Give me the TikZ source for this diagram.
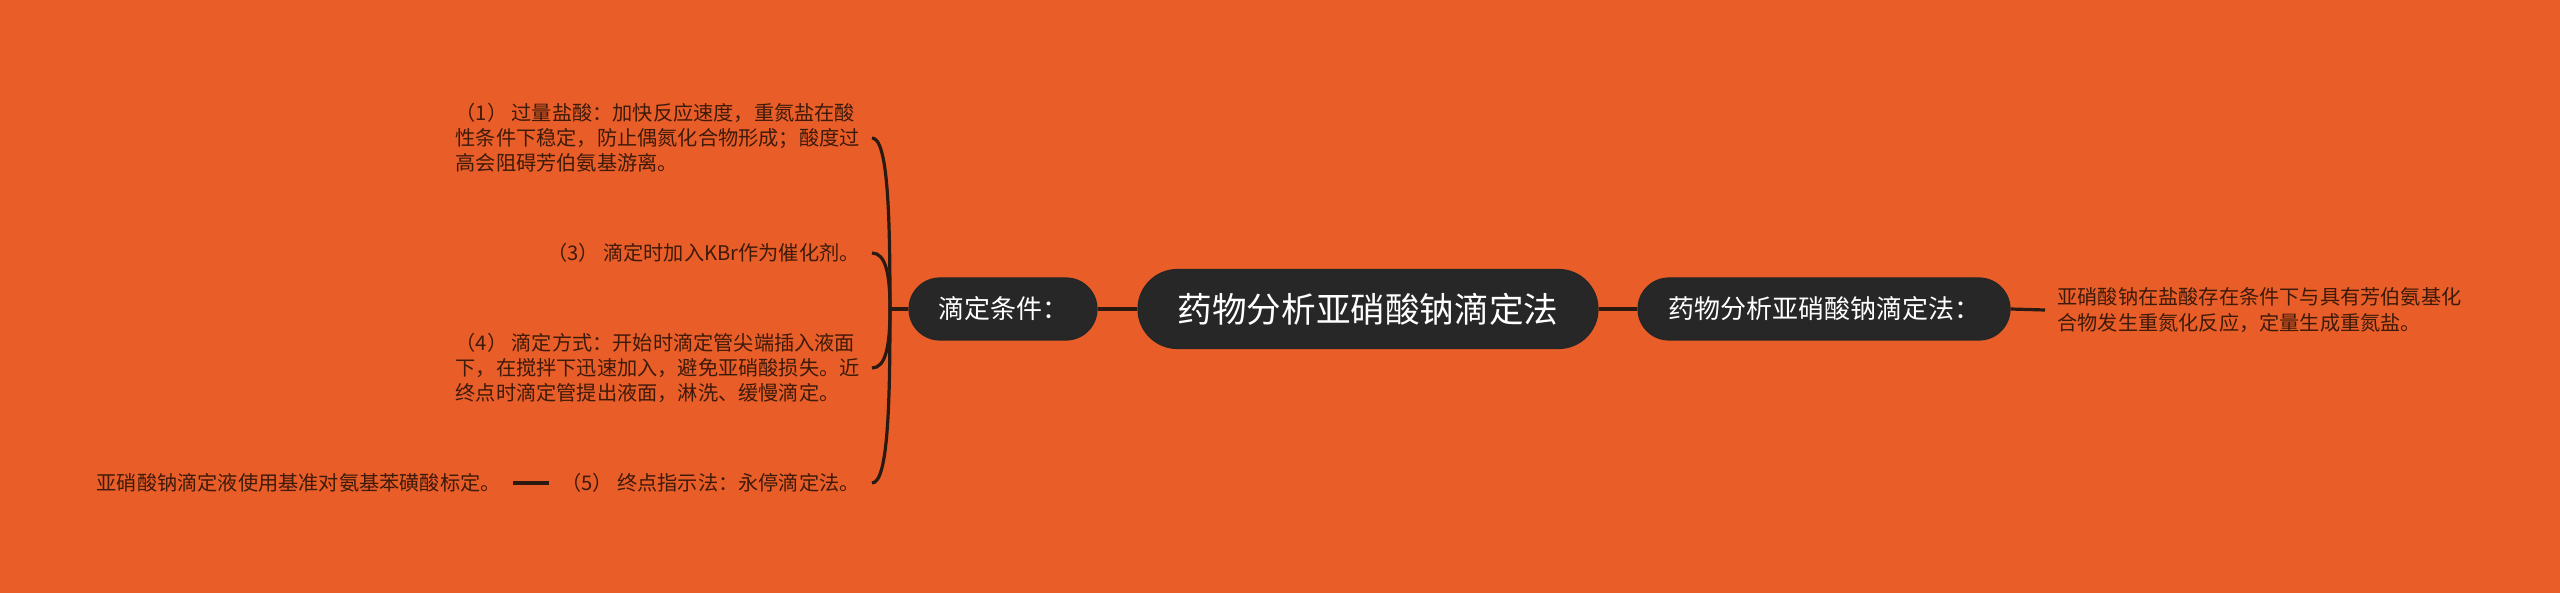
\documentclass[tikz,border=0pt]{standalone}
\usepackage{fontspec}
\setmainfont{Noto Sans CJK SC}
\usetikzlibrary{calc}
\definecolor{bgcol}{HTML}{E95E28}
\definecolor{pillfill}{HTML}{272727}
\definecolor{leaftext}{HTML}{3E1A0A}
\definecolor{linecol}{HTML}{2A1A12}
\begin{document}
\begin{tikzpicture}[x=0.5pt,y=-0.5pt,
  pill/.style={fill=pillfill, draw=black!85, line width=0.6pt, text=white, inner ysep=0pt},
  leaf/.style={text=leaftext, font=\fontsize{10.1pt}{12.5pt}\selectfont, align=left, inner xsep=6pt, inner ysep=2pt},
  link/.style={draw=linecol, line width=1.6pt}]
\fill[bgcol] (0,0) rectangle (2560,593);
\useasboundingbox (0,0) rectangle (2560,593);

\node[pill, minimum width=230pt, minimum height=39.5pt, rounded corners=19.75pt,
  font=\fontsize{17.3pt}{20pt}\selectfont] (root) at (1368,309) {药物分析亚硝酸钠滴定法};
\node[pill, minimum width=94pt, minimum height=31pt, rounded corners=15.5pt,
  font=\fontsize{13pt}{15pt}\selectfont] (cond) at (1003,309) {滴定条件：};
\node[pill, minimum width=186pt, minimum height=31pt, rounded corners=15.5pt,
  font=\fontsize{13pt}{15pt}\selectfont] (def) at (1824,309) {药物分析亚硝酸钠滴定法：};

\node[leaf, anchor=west, font=\fontsize{10.1pt}{13pt}\selectfont] (defL) at (2045,310)
  {亚硝酸钠在盐酸存在条件下与具有芳伯氨基化\\合物发生重氮化反应，定量生成重氮盐。};

\node[leaf, anchor=east] (c1) at (872,138)
  {（1） 过量盐酸：加快反应速度，重氮盐在酸\\性条件下稳定，防止偶氮化合物形成；酸度过\\高会阻碍芳伯氨基游离。};
\node[leaf, anchor=east] (c3) at (872,253) {（3） 滴定时加入KBr作为催化剂。};
\node[leaf, anchor=east] (c4) at (872,368)
  {（4） 滴定方式：开始时滴定管尖端插入液面\\下，在搅拌下迅速加入，避免亚硝酸损失。近\\终点时滴定管提出液面，淋洗、缓慢滴定。};
\node[leaf, anchor=east] (c5) at (872,483) {（5） 终点指示法：永停滴定法。};
\node[leaf, anchor=east] (c5L) at (513,483) {亚硝酸钠滴定液使用基准对氨基苯磺酸标定。};

\coordinate (J) at (890,309);
\draw[link] (root.west) -- (cond.east);
\draw[link] (root.east) -- (def.west);
\draw[link] (def.east) -- (defL.west);
\draw[link] (cond.west) -- (J);
\draw[link] (J) .. controls (890,215) and ($(c1.east)+(16,0)$) .. (c1.east);
\draw[link] (J) .. controls (890,275) and ($(c3.east)+(14,0)$) .. (c3.east);
\draw[link] (J) .. controls (890,345) and ($(c4.east)+(14,0)$) .. (c4.east);
\draw[link] (J) .. controls (890,405) and ($(c5.east)+(16,0)$) .. (c5.east);
\draw[link] (c5.west) -- (c5L.east);
\end{tikzpicture}
\end{document}
